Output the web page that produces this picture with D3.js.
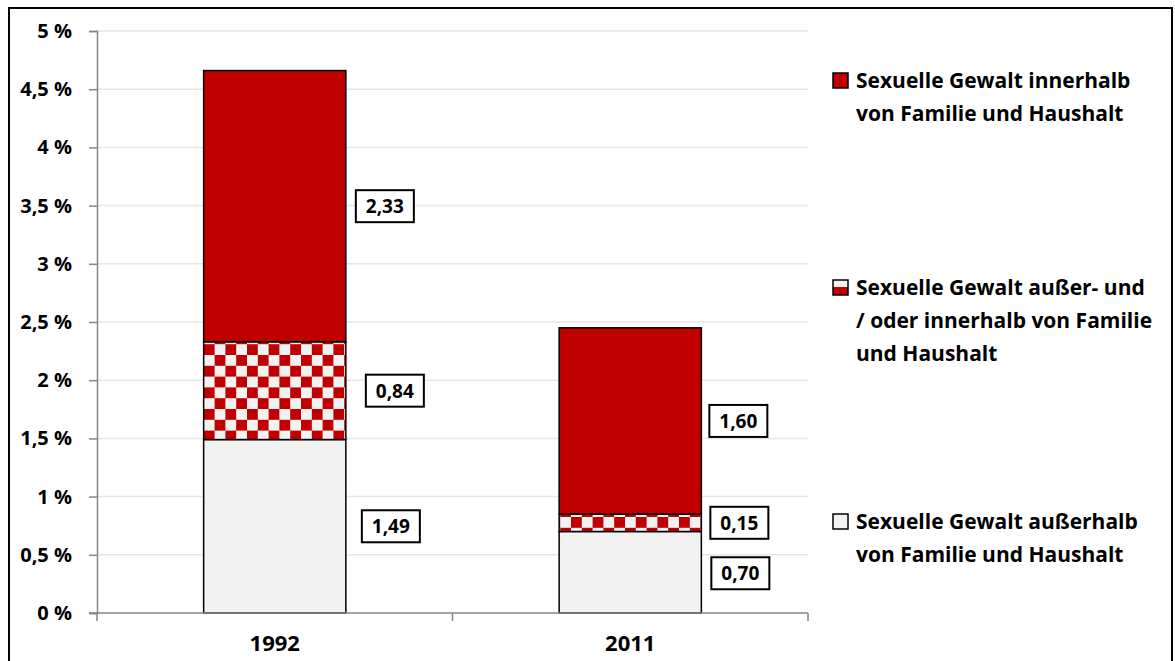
<!DOCTYPE html>
<html>
<head>
<meta charset="utf-8">
<script src="https://cdn.jsdelivr.net/npm/d3@7"></script>
<style>
  html, body { margin: 0; padding: 0; background: #fff; }
  svg { display: block; font-family: "Open Sans", sans-serif; font-weight: 700; }
</style>
</head>
<body>
<div id="chart"></div>
<script>
// ---- data ----
const years = ['1992', '2011'];
const outside = [1.49, 0.70];      // außerhalb
const both = [0.84, 0.15];         // außer- und / oder innerhalb
const inside = [2.33, 1.60];       // innerhalb
const yTicks = [0, 0.5, 1, 1.5, 2, 2.5, 3, 3.5, 4, 4.5, 5];
const legendLabels = [
    ['Sexuelle Gewalt innerhalb', 'von Familie und Haushalt'],
    ['Sexuelle Gewalt außer- und', '/ oder innerhalb von Familie', 'und Haushalt'],
    ['Sexuelle Gewalt außerhalb', 'von Familie und Haushalt']
];

const RED = '#c00000';
const LIGHT = '#f2f2f2';

const width = 1175, height = 661;
const margin = { top: 31, right: 367, bottom: 48, left: 97 };
const w = width - margin.left - margin.right;
const h = height - margin.top - margin.bottom;

const svg = d3.select('#chart').append('svg')
    .attr('width', width)
    .attr('height', height);

// checkered pattern
const defs = svg.append('defs');
const cell = 10.8;
const pat = defs.append('pattern')
    .attr('id', 'checker')
    .attr('patternUnits', 'userSpaceOnUse')
    .attr('width', cell * 2).attr('height', cell * 2)
    .attr('x', 204).attr('y', 0);
pat.append('rect').attr('width', cell * 2).attr('height', cell * 2).attr('fill', LIGHT);
pat.append('rect').attr('width', cell).attr('height', cell).attr('fill', RED);
pat.append('rect').attr('x', cell).attr('y', cell).attr('width', cell).attr('height', cell).attr('fill', RED);

const legPat = defs.append('pattern')
    .attr('id', 'checkerSmall')
    .attr('patternUnits', 'objectBoundingBox')
    .attr('width', 1).attr('height', 1);
legPat.append('rect').attr('width', 15).attr('height', 7).attr('fill', LIGHT);
legPat.append('rect').attr('y', 7).attr('width', 15).attr('height', 8).attr('fill', RED);

// outer frame
svg.append('rect')
    .attr('x', 9).attr('y', 8)
    .attr('width', 1163).attr('height', 670)
    .attr('fill', 'none')
    .attr('stroke', '#000')
    .attr('stroke-width', 2);

const g = svg.append('g')
    .attr('transform', `translate(${margin.left},${margin.top})`);

const x = d3.scaleBand().domain(years).range([0, w])
    .paddingInner(0.6).paddingOuter(0.3);
const y = d3.scaleLinear().domain([0, 5]).range([h, 0]);

// grid
g.selectAll('.grid')
    .data(yTicks.filter(d => d > 0))
    .join('line')
    .attr('x1', 0).attr('x2', w)
    .attr('y1', d => y(d)).attr('y2', d => y(d))
    .attr('stroke', '#e6e6e6')
    .attr('stroke-width', 1.5);

// stacked bars
const layers = [
    { vals: outside, fill: LIGHT },
    { vals: both, fill: 'url(#checker)' },
    { vals: inside, fill: RED }
];
years.forEach((yr, i) => {
    let base = 0;
    layers.forEach(layer => {
        const v = layer.vals[i];
        g.append('rect')
            .attr('x', x(yr))
            .attr('y', y(base + v))
            .attr('width', x.bandwidth())
            .attr('height', y(base) - y(base + v))
            .attr('fill', layer.fill)
            .attr('stroke', '#000')
            .attr('stroke-width', 1.5);
        base += v;
    });
});

// value labels (box offsets from bar edge, per layer / year)
const labelDx = [[16, 10], [20, 9], [10, 8]];
const fmt = v => d3.format('.2f')(v).replace('.', ',');
years.forEach((yr, i) => {
    let base = 0;
    layers.forEach((layer, li) => {
        const v = layer.vals[i];
        let cy = y(base + v / 2);
        if (i === 1 && li === 0) cy += 1;
        const bx = x(yr) + x.bandwidth() + labelDx[li][i];
        const lg = g.append('g').attr('transform', `translate(${bx},${cy})`);
        lg.append('rect')
            .attr('x', 0).attr('y', -16)
            .attr('width', 58).attr('height', 32)
            .attr('fill', '#fff')
            .attr('stroke', '#000')
            .attr('stroke-width', 2);
        lg.append('text')
            .attr('x', 29).attr('y', 0)
            .attr('dy', '0.36em')
            .attr('text-anchor', 'middle')
            .style('font-size', '19px')
            .text(fmt(v));
        base += v;
    });
});

// y axis
const yAxis = g.append('g')
    .call(d3.axisLeft(y).tickValues(yTicks).tickSize(8).tickPadding(17)
        .tickFormat(d => String(d).replace('.', ',') + ' %'));
yAxis.select('.domain').attr('stroke', '#868686').attr('stroke-width', 1.5);
yAxis.selectAll('.tick line').attr('stroke', '#868686').attr('stroke-width', 1.5);
yAxis.selectAll('.tick text')
    .style('font-size', '20px')
    .style('font-family', '"Open Sans", sans-serif')
    .style('font-weight', '700')
    .attr('fill', '#000');

// x axis
const xAxis = g.append('g').attr('transform', `translate(0,${h})`);
xAxis.append('line')
    .attr('x1', -8).attr('x2', w)
    .attr('stroke', '#868686').attr('stroke-width', 1.5);
d3.range(years.length + 1).forEach(k => {
    const bx = k * x.step();
    xAxis.append('line')
        .attr('x1', bx).attr('x2', bx)
        .attr('y1', 0).attr('y2', 8)
        .attr('stroke', '#868686').attr('stroke-width', 1.5);
});
xAxis.selectAll('.xl')
    .data(years)
    .join('text')
    .attr('x', d => x(d) + x.bandwidth() / 2)
    .attr('y', 38)
    .attr('text-anchor', 'middle')
    .style('font-size', '22px')
    .text(d => d);

// legend
const legendFills = [RED, 'url(#checkerSmall)', LIGHT];
const legendY = [80, 287, 521];
legendLabels.forEach((lines, i) => {
    const lg = svg.append('g').attr('transform', `translate(833,${legendY[i]})`);
    lg.append('rect')
        .attr('x', 0).attr('y', -7)
        .attr('width', 15).attr('height', 15)
        .attr('fill', legendFills[i])
        .attr('stroke', '#000')
        .attr('stroke-width', 1.5);
    lines.forEach((ln, j) => {
        lg.append('text')
            .attr('x', 23)
            .attr('y', j * 33)
            .attr('dy', '0.36em')
            .style('font-size', '21px')
            .text(ln);
    });
});
</script>
</body>
</html>
